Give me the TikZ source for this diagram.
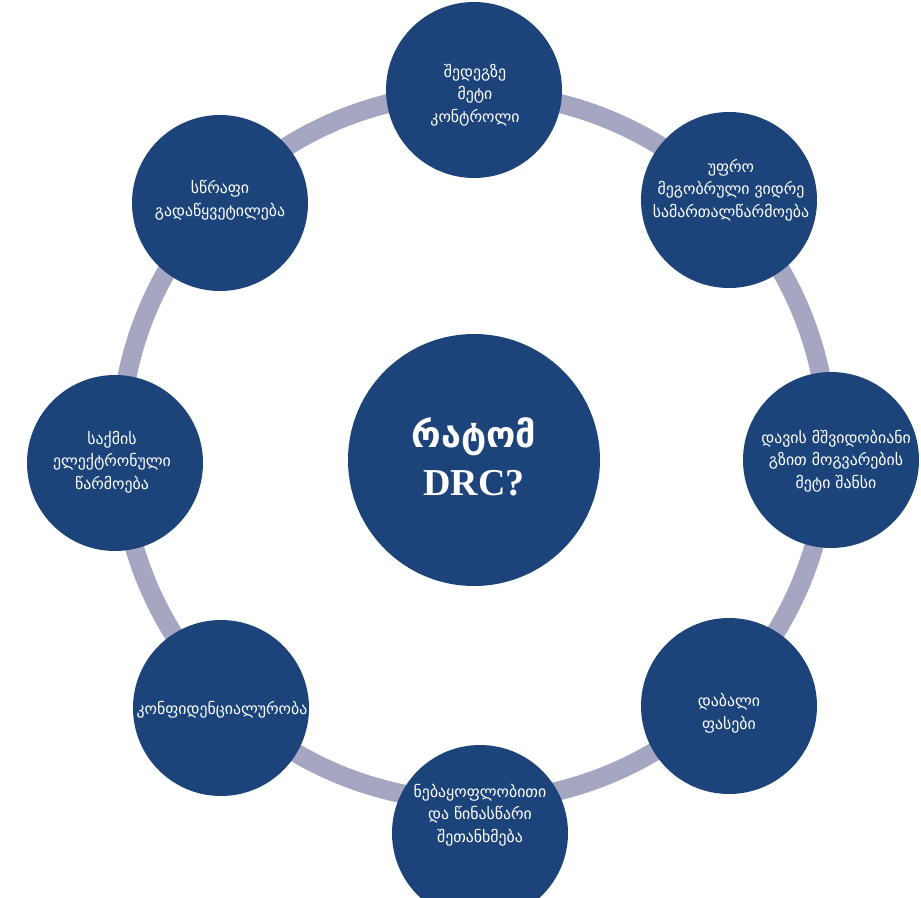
\documentclass[tikz,border=0pt]{standalone}
\usepackage{fontspec}
\setmainfont{DejaVu Sans}
\newfontfamily\hubfont{DejaVu Sans}
\newfontfamily\drcfont{Liberation Serif}
\definecolor{ringgray}{RGB}{165,166,193}
\definecolor{navy}{RGB}{28,68,122}

\tikzstyle{bubble} = [circle, fill=navy, inner sep=0pt, minimum size=176pt]
\tikzstyle{hub} = [circle, fill=navy, inner sep=0pt, minimum size=252pt]
\tikzstyle{caption} = [text=white, align=center, inner sep=0pt, font=\fontsize{15.8}{22.5}\selectfont]

\begin{document}
\begin{tikzpicture}[x=1pt, y=-1pt]
      \useasboundingbox (0,0) rectangle (921,897);
      \coordinate (o) at (474,447);
      \draw[ringgray, line width=19pt] (o) circle (354pt);
      \node[bubble] (n1) at (474,90) {};
      \node[bubble] (n2) at (729,200) {};
      \node[bubble] (n3) at (831,460) {};
      \node[bubble] (n4) at (729,706) {};
      \node[bubble] (n5) at (480,833) {};
      \node[bubble] (n6) at (221,708) {};
      \node[bubble] (n7) at (115,463) {};
      \node[bubble] (n8) at (220,203) {};
      \node[hub] (drc) at (474,460) {};
      \node[caption] (l1) at (475,95) {შედეგზე\\მეტი\\კონტროლი};
      \node[caption] (l2) at (731,190) {უფრო\\მეგობრული ვიდრე\\სამართალწარმოება};
      \node[caption] (l3) at (836,461) {დავის მშვიდობიანი\\გზით მოგვარების\\მეტი შანსი};
      \node[caption] (l4) at (729,713) {დაბალი\\ფასები};
      \node[caption] (l5) at (480,815) {ნებაყოფლობითი\\და წინასწარი\\შეთანხმება};
      \node[caption] (l6) at (222,710) {კონფიდენციალურობა};
      \node[caption] (l7) at (112,462) {საქმის\\ელექტრონული\\წარმოება};
      \node[caption] (l8) at (220,200) {სწრაფი\\გადაწყვეტილება};
      \node[text=white, inner sep=0pt, font=\hubfont\bfseries\fontsize{36}{36}\selectfont] (why) at (474,437) {რატომ};
      \node[text=white, inner sep=0pt, font=\drcfont\bfseries\fontsize{38}{38}\selectfont, anchor=base] (abbr) at (474,495) {DRC?};
    \end{tikzpicture}
\end{document}
